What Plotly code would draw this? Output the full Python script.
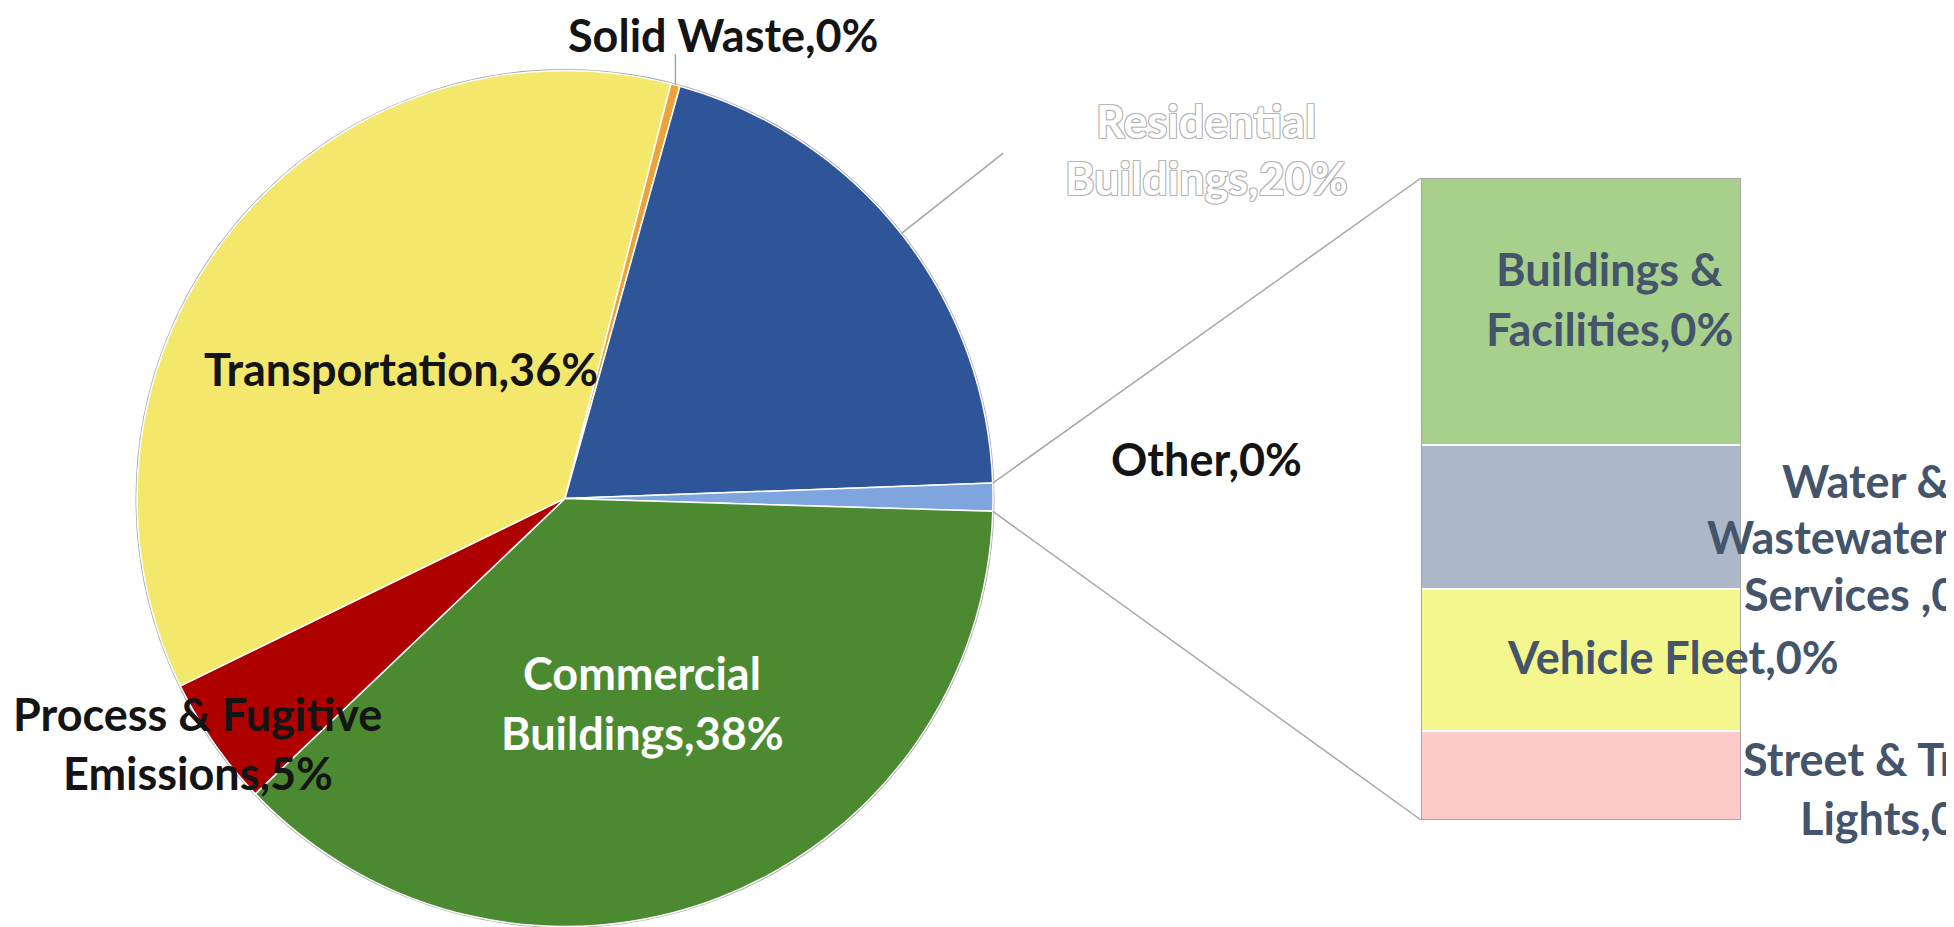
import math
import plotly.graph_objects as go

W, H = 1954, 927

# ---------------- data ----------------
pie_labels = ["Transportation", "Solid Waste", "Residential Buildings", "Other",
              "Commercial Buildings", "Process & Fugitive Emissions"]
pie_values = [36.2, 0.35, 20.1, 1.05, 37.4, 4.9]
pie_pct_text = ["36%", "0%", "20%", "0%", "38%", "5%"]
pie_label_lines = [["Transportation,36%"], ["Solid Waste,0%"], ["Residential", "Buildings,20%"],
                   ["Other,0%"], ["Commercial", "Buildings,38%"], ["Process & Fugitive", "Emissions,5%"]]

bar_labels = ["Street & Traffic Lights", "Vehicle Fleet", "Water & Wastewater Services ",
              "Buildings & Facilities"]
bar_values = [0.146, 0.232, 0.236, 0.436]
bar_pct_text = ["0%", "0%", "0%", "0%"]
bar_label_lines = [["Street & Traffic", "Lights,0%"], ["Vehicle Fleet,0%"],
                   ["Water &", "Wastewater", "Services ,0%"], ["Buildings &", "Facilities,0%"]]

# ---------------- styles / layout positions (page px) ----------------
pie_colors = ["#F4E86C", "#EDA33C", "#2E5597", "#7FA5DE", "#4B8A30", "#AF0000"]
bar_colors = ["#FDCACA", "#F4F78E", "#ACB8CA", "#A8D08D"]

OFF = 8                              # page body margin
CX, CY, R = 565, 498.5, 428          # pie centre / radius
ROT = 244                            # start angle of first slice (clockwise from 12 o'clock)
BX0, BX1, BY0, BY1 = 1421, 1741, 178, 820   # bar box

FONT = "Lato"
FS = 45
DARK = "#141414"
SLATE = "#44546A"

def px(x):
    return (x - OFF) / W

def py(y):
    return 1 - (y - OFF) / H

fig = go.Figure()

pie_domain = dict(x=[px(CX - R), px(CX + R)], y=[py(CY + R), py(CY - R)])

# backing pie for grey outline
fig.add_trace(go.Pie(values=[1], labels=["outline"], domain=pie_domain, sort=False,
                     marker=dict(colors=["white"], line=dict(color="#A6A6A6", width=3)),
                     textinfo="none", hoverinfo="skip", showlegend=False))

fig.add_trace(go.Pie(values=pie_values, labels=pie_labels, domain=pie_domain, sort=False,
                     direction="clockwise", rotation=ROT,
                     marker=dict(colors=pie_colors, line=dict(color="white", width=1.5)),
                     textinfo="none", hoverinfo="label+percent", showlegend=False))

for v, lab, col in zip(bar_values, bar_labels, bar_colors):
    fig.add_trace(go.Bar(x=[0], y=[v], name=lab, xaxis="x2", yaxis="y2", width=1,
                         marker=dict(color=col, line=dict(color="white", width=2.5)),
                         hoverinfo="name", showlegend=False))

total_other = sum(bar_values)

fig.update_layout(
    width=W, height=H, margin=dict(l=0, r=0, t=0, b=0),
    paper_bgcolor="white", plot_bgcolor="white", barmode="stack", bargap=0,
    xaxis2=dict(domain=[px(BX0), px(BX1)], range=[-0.5, 0.5], visible=False, anchor="y2"),
    yaxis2=dict(domain=[py(BY1), py(BY0)], range=[0, total_other], visible=False, anchor="x2"),
)

# outline around bar
fig.add_shape(type="rect", xref="x2", yref="y2", x0=-0.5, x1=0.5, y0=0, y1=total_other,
              line=dict(color="#A6A6A6", width=2), fillcolor="rgba(0,0,0,0)")

# slice angles
tot = sum(pie_values)
starts, ends = [], []
a = ROT
for v in pie_values:
    starts.append(a)
    a += v / tot * 360
    ends.append(a)

def pt(angle, r):
    t = math.radians(angle)
    return CX + r * math.sin(t), CY - r * math.cos(t)

def line_px(x0, y0, x1, y1, color="#A6A6A6", width=1.5):
    fig.add_shape(type="line", xref="paper", yref="paper",
                  x0=px(x0), y0=py(y0), x1=px(x1), y1=py(y1),
                  line=dict(color=color, width=width))

# connector lines from "Other" slice to bar
io = pie_labels.index("Other")
sx, sy = pt(starts[io], R)
ex, ey = pt(ends[io], R)
line_px(sx, sy, BX0, BY0)
line_px(ex, ey, BX0, BY1)

# leader line for Solid Waste (vertical)
isw = pie_labels.index("Solid Waste")
mx, my = pt((starts[isw] + ends[isw]) / 2, R)
line_px(mx, my, mx, 54)

# leader line for Residential (radial)
ir = pie_labels.index("Residential Buildings")
mid = (starts[ir] + ends[ir]) / 2
x0, y0 = pt(mid, R)
x1, y1 = pt(mid, R + 130)
line_px(x0, y0, x1, y1)

# ---------------- labels ----------------
def add_line(t, x, y, color, anchor="center", shadow=None):
    f = dict(family=FONT, size=FS, color=color, weight="bold")
    if shadow:
        f["shadow"] = shadow
    fig.add_annotation(x=px(x), y=py(y), xref="paper", yref="paper", text=t,
                       showarrow=False, xanchor=anchor, yanchor="middle", font=f)

# per-line positions (x, y, anchor)
pie_line_pos = [
    [(401, 369, "center")],
    [(723, 35, "center")],
    [(1206, 121, "center"), (1206, 178, "center")],
    [(1206, 459, "center")],
    [(642, 673, "center"), (642, 733, "center")],
    [(197, 714, "center"), (198, 773, "center")],
]
pie_label_col = [DARK, DARK, "white", DARK, "white", DARK]
outline = "-1px -1px 0 #B4B4B4, 1px -1px 0 #B4B4B4, -1px 1px 0 #B4B4B4, 1px 1px 0 #B4B4B4"
for lines, poss, col, lab in zip(pie_label_lines, pie_line_pos, pie_label_col, pie_labels):
    for t, (x, y, anc) in zip(lines, poss):
        add_line(t, x, y, col, anc, shadow=outline if lab == "Residential Buildings" else None)

bar_line_pos = [
    [(1741, 759, "left"), (1798, 818, "left")],
    [(1673, 657, "center")],
    [(1780, 481, "left"), (1705, 537, "left"), (1742, 594, "left")],
    [(1609, 269, "center"), (1609, 329, "center")],
]
for lines, poss in zip(bar_label_lines, bar_line_pos):
    for t, (x, y, anc) in zip(lines, poss):
        add_line(t, x, y, SLATE, anc)

fig.write_html("out.html")
